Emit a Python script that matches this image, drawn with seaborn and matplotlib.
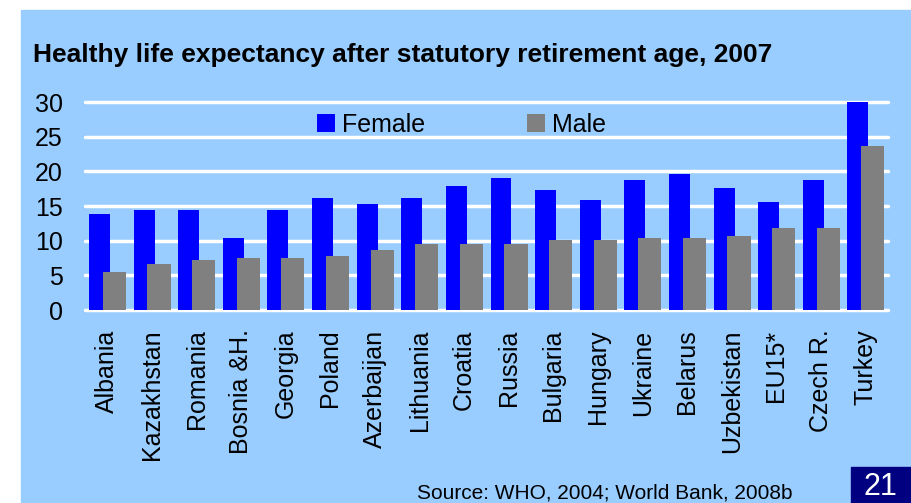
import numpy as np
import pandas as pd
import matplotlib
matplotlib.use("Agg")
import matplotlib.pyplot as plt
from matplotlib.patches import Rectangle, Patch
import seaborn as sns

# --- data ---
countries = ["Albania", "Kazakhstan", "Romania", "Bosnia &H.", "Georgia", "Poland",
             "Azerbaijan", "Lithuania", "Croatia", "Russia", "Bulgaria", "Hungary",
             "Ukraine", "Belarus", "Uzbekistan", "EU15*", "Czech R.", "Turkey"]
female = [13.9, 14.4, 14.4, 10.4, 14.4, 16.2, 15.3, 16.2, 17.9, 19.0,
          17.3, 15.9, 18.8, 19.6, 17.6, 15.6, 18.8, 30.0]
male = [5.5, 6.6, 7.2, 7.5, 7.5, 7.8, 8.6, 9.5, 9.5, 9.5,
        10.1, 10.1, 10.4, 10.4, 10.7, 11.8, 11.8, 23.6]
yticks = [0, 5, 10, 15, 20, 25, 30]

title = "Healthy life expectancy after statutory retirement age, 2007"
source = "Source: WHO, 2004; World Bank, 2008b"
page_no = "21"

BG = "#99CCFF"
FEMALE_C = "#0000FF"
MALE_C = "#808080"

sns.set_style("white")
plt.rcParams['font.family'] = ['Liberation Sans', 'DejaVu Sans']
plt.rcParams['text.color'] = 'black'
plt.rcParams['xtick.color'] = 'black'
plt.rcParams['ytick.color'] = 'black'

pos = np.arange(len(countries))
df_f = pd.DataFrame({"x": pos - 0.175, "val": female})
df_m = pd.DataFrame({"x": pos + 0.16, "val": male})

W, H = 911, 503
fig = plt.figure(figsize=(W / 100, H / 100), dpi=100)
fig.patch.set_facecolor("white")
# light blue slide panel
fig.add_artist(Rectangle((21 / W, 0), 1 - 21 / W, (H - 10) / H,
                         transform=fig.transFigure, color=BG, zorder=0))

# axes: x 85..888 px, y=0 at 310 px, y=30 at 102 px
px_per_unit = (310 - 102) / 30
ytop = 30.4
ax = fig.add_axes([85 / W, (H - 310) / H, (888 - 85) / W, ytop * px_per_unit / H])
ax.set_facecolor(BG)

for yv in yticks:
    ax.axhline(yv, color="white", lw=2.5, zorder=1, clip_on=False)

sns.barplot(data=df_f, x="x", y="val", native_scale=True, width=0.47,
            color=FEMALE_C, saturation=1, linewidth=0, ax=ax, zorder=2)
sns.barplot(data=df_m, x="x", y="val", native_scale=True, width=0.52,
            color=MALE_C, saturation=1, linewidth=0, ax=ax, zorder=3)

ax.set_xlim(-0.5, len(countries) - 0.5)
ax.set_ylim(0, ytop)
ax.set_xticks(pos)
ax.set_xticklabels(countries, rotation=90, fontsize=18, va="top")
ax.set_yticks(yticks)
ax.set_yticklabels([str(v) for v in yticks], fontsize=18)
ax.tick_params(axis="both", length=0)
ax.tick_params(axis="y", pad=16)
ax.tick_params(axis="x", pad=14)
ax.set_xlabel("")
ax.set_ylabel("")
sns.despine(ax=ax, left=True, bottom=True)

handles = [Patch(facecolor=FEMALE_C, edgecolor="none", label="Female"),
           Patch(facecolor=MALE_C, edgecolor="none", label="Male")]
fig.legend(handles=handles, loc="center left", ncol=2, frameon=False,
           bbox_to_anchor=(317 / W, (H - 124.5) / H), bbox_transform=fig.transFigure,
           fontsize=18, handlelength=0.7, handleheight=0.7, handletextpad=0.28,
           columnspacing=4.1, borderpad=0, borderaxespad=0)

fig.text(33 / W, (H - 62) / H, title, fontsize=19, fontweight="bold",
         ha="left", va="baseline")
fig.text(417 / W, 0.5 / H, source, fontsize=15, ha="left", va="bottom")

fig.add_artist(Rectangle((851 / W, 0), 60 / W, 36 / H,
                         transform=fig.transFigure, color="#000080", zorder=5))
fig.text(880 / W, 1 / H, page_no, fontsize=22, color="white",
         ha="center", va="bottom", zorder=6)

fig.savefig("out.png", dpi=100, facecolor=fig.get_facecolor())
